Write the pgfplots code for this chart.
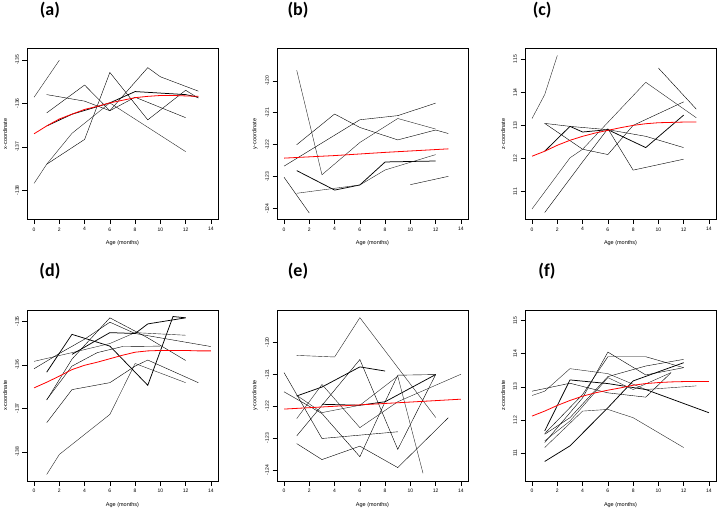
\documentclass[border=0pt]{standalone}
\usepackage{pgfplots}
\pgfplotsset{compat=1.18}
\usepackage{fontspec}
\setmainfont{Liberation Sans}
\newfontfamily\titlefont{Carlito}
\pgfplotsset{
 every axis title/.style={at={(0.5,1)}, anchor=center, font=\titlefont\bfseries\fontsize{18}{20}\selectfont},
 panel/.style={
  width=191pt, height=171pt, scale only axis,
  xmin=-0.56, xmax=14.56, xtick={0,2,...,14},
  tick align=outside, tick pos=left,
  major tick length=4.5pt,
  axis line style={line width=0.6pt},
  every tick/.style={black, line width=0.5pt},
  tick label style={font=\fontsize{5}{6}\selectfont},
  /pgf/number format/assume math mode=true,
  yticklabel style={rotate=90, anchor=south},
  label style={font=\fontsize{5.5}{6.5}\selectfont},
  xlabel={Age (months)},
  xlabel style={at={(axis description cs:0.5,-0.14)}, anchor=center},
  ylabel style={at={(axis description cs:-0.115,0.5)}, anchor=center},
  cycle list={{black!85, solid, no marks, line width=0.75pt}},
 },
 px/.style={ymin=-138.67, ymax=-134.74, ytick={-138,-137,-136,-135}, ylabel={x-coordinate}},
 py/.style={ymin=-124.34, ymax=-118.99, ytick={-124,-123,-122,-121,-120}, ylabel={y-coordinate}},
 pz/.style={ymin=110.16, ymax=115.32, ytick={111,112,113,114,115}, ylabel={z-coordinate}},
 fit/.style={red, solid, no marks, line width=0.8pt},
}
\begin{document}
\begin{tikzpicture}
\useasboundingbox (0,0) rectangle (722pt,514pt);
% (a)
\begin{axis}[panel, px, at={(27pt,294.5pt)}, anchor=south west,
  title={(a)}, title style={at={(axis description cs:0.12,1.222)}}]
\addplot coordinates {(0,-135.86)(2,-135.01)};
\addplot coordinates {(1,-136.22)(4,-135.58)(6,-136.17)(9,-135.18)(10,-135.39)(13,-135.72)};
\addplot coordinates {(1,-135.80)(4,-135.95)(6,-136.17)(8,-135.86)(12,-136.33)};
\addplot coordinates {(1,-136.52)(3,-136.25)(6,-135.99)(8,-135.73)(12,-135.80)(13,-135.86)};
\addplot coordinates {(0,-137.84)(1,-137.40)(3,-136.69)(6,-135.99)(12,-137.11)};
\addplot coordinates {(1,-137.40)(4,-136.83)(6,-135.29)(9,-136.38)(12,-135.70)(13,-135.88)};
\addplot[fit] coordinates {(0,-136.70)(1,-136.52)(2,-136.36)(3,-136.25)(4,-136.14)(5,-136.07)(6,-135.99)(7,-135.93)(8,-135.87)(9,-135.84)(10,-135.82)(11,-135.82)(12,-135.83)(13,-135.84)};
\end{axis}
% (b)
\begin{axis}[panel, py, at={(277pt,294.5pt)}, anchor=south west,
  title={(b)}, title style={at={(axis description cs:0.11,1.222)}}]
\addplot coordinates {(1,-119.67)(3,-122.94)(6,-121.93)(9,-121.18)(12,-121.51)};
\addplot coordinates {(1,-122.00)(4,-121.04)(6,-121.46)(9,-121.85)(12,-121.54)(13,-121.65)};
\addplot coordinates {(0,-122.67)(6,-121.22)(9,-121.09)(12,-120.70)};
\addplot coordinates {(1,-122.81)(4,-123.42)(6,-123.26)(8,-122.54)(12,-122.51)};
\addplot coordinates {(1,-123.52)(6,-123.26)(8,-122.79)(12,-122.31)};
\addplot coordinates {(0,-123.02)(2,-124.14)};
\addplot coordinates {(10,-123.25)(13,-122.99)};
\addplot[fit] coordinates {(0,-122.42)(4,-122.34)(8,-122.24)(13,-122.13)};
\end{axis}
% (c)
\begin{axis}[panel, pz, at={(525pt,294.5pt)}, anchor=south west,
  title={(c)}, title style={at={(axis description cs:0.09,1.222)}}]
\addplot coordinates {(0,113.21)(1,113.93)(2,115.11)};
\addplot coordinates {(1,113.06)(3,112.97)(6,112.87)(9,112.67)(12,112.33)};
\addplot coordinates {(1,113.06)(4,112.28)(6,112.12)(8,113.00)(12,113.71)};
\addplot coordinates {(1,112.22)(3,112.97)(4,112.80)(6,112.87)(9,112.33)(12,113.31)};
\addplot coordinates {(0,110.48)(3,112.02)(4,112.28)(6,113.09)(9,114.30)(13,113.23)};
\addplot coordinates {(1,110.37)(4,111.90)(6,112.90)(8,111.65)(12,111.98)};
\addplot coordinates {(10,114.73)(13,113.49)};
\addplot[fit] coordinates {(0,112.07)(1,112.22)(2,112.40)(3,112.55)(4,112.67)(5,112.77)(6,112.85)(7,112.93)(8,113.00)(9,113.05)(10,113.08)(11,113.09)(12,113.10)(13,113.10)};
\end{axis}
% (d)
\begin{axis}[panel, px, at={(27pt,33pt)}, anchor=south west,
  title={(d)}, title style={at={(axis description cs:0.12,1.225)}}]
\addplot coordinates {(1,-138.52)(2,-138.06)(4,-137.60)(6,-137.14)(8,-135.97)(12,-136.41)};
\addplot coordinates {(1,-137.33)(3,-136.57)(6,-136.41)(8,-136.03)(9,-135.89)(13,-136.41)};
\addplot coordinates {(1,-136.81)(3,-135.87)(6,-134.92)(9,-135.38)(12,-135.90)};
\addplot coordinates {(1,-136.17)(3,-135.30)(6,-135.57)(9,-136.47)(11,-134.89)(12,-134.92)};
\addplot coordinates {(0,-135.92)(3,-135.72)(6,-135.51)(8,-135.26)(12,-135.32)};
\addplot coordinates {(0,-136.09)(2,-135.74)(4,-135.41)(6,-135.02)(8,-135.28)(14,-135.58)};
\addplot coordinates {(1,-136.80)(3,-136.03)(5,-135.72)(7,-135.58)(10,-135.57)};
\addplot coordinates {(3,-135.76)(6,-135.26)(8,-135.28)(9,-135.06)(12,-134.92)};
\addplot[fit] coordinates {(0,-136.53)(1,-136.40)(2,-136.26)(3,-136.11)(4,-136.01)(5,-135.94)(6,-135.86)(7,-135.78)(8,-135.71)(9,-135.68)(10,-135.67)(11,-135.67)(12,-135.67)(13,-135.68)(14,-135.68)};
\end{axis}
% (e)
\begin{axis}[panel, py, at={(277pt,33pt)}, anchor=south west,
  title={(e)}, title style={at={(axis description cs:0.11,1.225)}}]
\addplot coordinates {(1,-120.41)(4,-120.46)(6,-119.23)(12,-122.35)};
\addplot coordinates {(0,-120.95)(3,-123.01)(9,-122.80)};
\addplot coordinates {(0,-121.55)(3,-122.23)(6,-123.58)(8,-121.86)(9,-121.03)(12,-121.01)};
\addplot coordinates {(1,-121.68)(3,-121.40)(6,-120.77)(8,-120.90)};
\addplot coordinates {(1,-122.39)(3,-121.32)(6,-122.67)(9,-121.86)(14,-121.00)};
\addplot coordinates {(1,-122.93)(6,-120.54)(9,-123.35)(12,-121.01)};
\addplot coordinates {(1,-123.17)(3,-123.67)(6,-123.25)(9,-123.92)(13,-122.36)};
\addplot coordinates {(3,-121.94)(6,-121.97)(8,-121.86)(12,-121.01)};
\addplot coordinates {(1,-121.66)(3,-122.20)(6,-121.97)(9,-121.06)(11,-124.10)};
\addplot[fit] coordinates {(0,-122.09)(5,-121.98)(10,-121.87)(14,-121.78)};
\end{axis}
% (f)
\begin{axis}[panel, pz, at={(525pt,33pt)}, anchor=south west,
  title={(f)}, title style={at={(axis description cs:0.115,1.225)}}]
\addplot coordinates {(0,112.74)(1,112.87)(3,113.55)(6,113.40)(9,112.92)(13,113.03)};
\addplot coordinates {(0,112.87)(3,113.11)(6,112.82)(9,112.69)(11,113.43)};
\addplot coordinates {(1,111.32)(4,112.67)(6,114.05)(9,113.36)(12,113.58)};
\addplot coordinates {(1,110.75)(3,111.22)(6,112.37)(8,113.18)(12,113.73)};
\addplot coordinates {(1,111.17)(4,112.27)(6,112.32)(8,112.07)(12,111.17)};
\addplot coordinates {(1,111.57)(3,112.07)(6,113.31)(9,113.63)(12,113.83)};
\addplot coordinates {(1,111.59)(4,112.77)(6,113.91)(9,113.91)(12,113.58)};
\addplot coordinates {(1,111.67)(3,113.21)(6,113.10)(9,112.92)(14,112.22)};
\addplot coordinates {(1,111.37)(3,111.97)(6,113.28)(8,112.92)(11,113.43)};
\addplot[fit] coordinates {(0,112.12)(1,112.27)(2,112.44)(3,112.59)(4,112.72)(5,112.82)(6,112.90)(7,112.97)(8,113.05)(9,113.10)(10,113.13)(11,113.15)(12,113.16)(13,113.16)(14,113.16)};
\end{axis}
\end{tikzpicture}
\end{document}
